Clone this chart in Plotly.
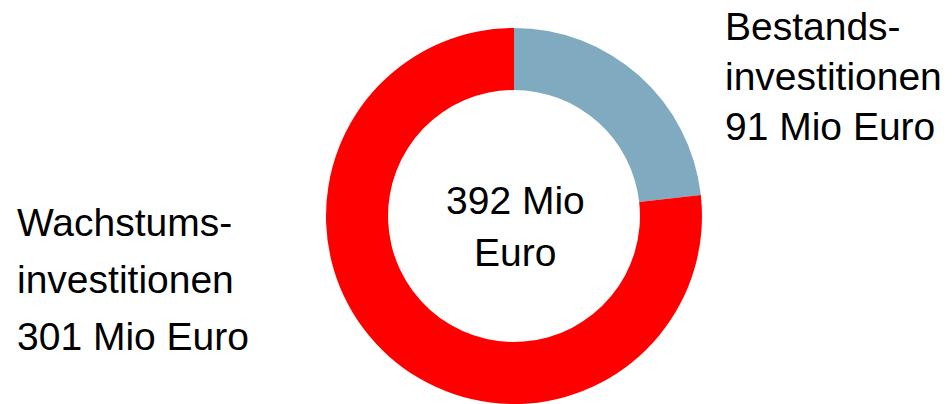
import plotly.graph_objects as go

labels = ["Bestandsinvestitionen", "Wachstumsinvestitionen"]
values = [91, 301]
colors = ["#7FAABF", "#FF0000"]
center_lines = ["392 Mio", "Euro"]
right_lines = ["Bestands-", "investitionen", "91 Mio Euro"]
left_lines = ["Wachstums-", "investitionen", "301 Mio Euro"]

W, H = 952, 404
FONT = "Liberation Sans"
FS = 39

fig = go.Figure(go.Pie(
    labels=labels, values=values, hole=0.67, sort=False,
    direction="clockwise", rotation=0,
    marker=dict(colors=colors, line=dict(width=0)),
    textinfo="none", hoverinfo="label+value", showlegend=False,
    domain=dict(x=[326 / W, 702 / W], y=[0, 376 / H]),
))

def yp(px):
    return 1 - px / H

anns = []
for line, py in zip(center_lines, [200, 252.8]):
    anns.append(dict(text=line, x=515 / W, y=yp(py), xanchor="center", yanchor="middle"))
for line, py in zip(right_lines, [26.3, 76.3, 126.3]):
    anns.append(dict(text=line, x=724 / W, y=yp(py), xanchor="left", yanchor="middle"))
for line, py in zip(left_lines, [222.5, 279.3, 336.5]):
    anns.append(dict(text=line, x=16 / W, y=yp(py), xanchor="left", yanchor="middle"))
for a in anns:
    a.update(xref="paper", yref="paper", showarrow=False, borderpad=0,
             font=dict(size=FS, color="#000000", family=FONT))

fig.update_layout(
    width=W, height=H, margin=dict(l=0, r=0, t=0, b=0),
    paper_bgcolor="white", plot_bgcolor="white",
    annotations=anns,
)

fig.write_html("out.html", config={"displayModeBar": False},
               post_script="document.body.style.margin='0px';")
